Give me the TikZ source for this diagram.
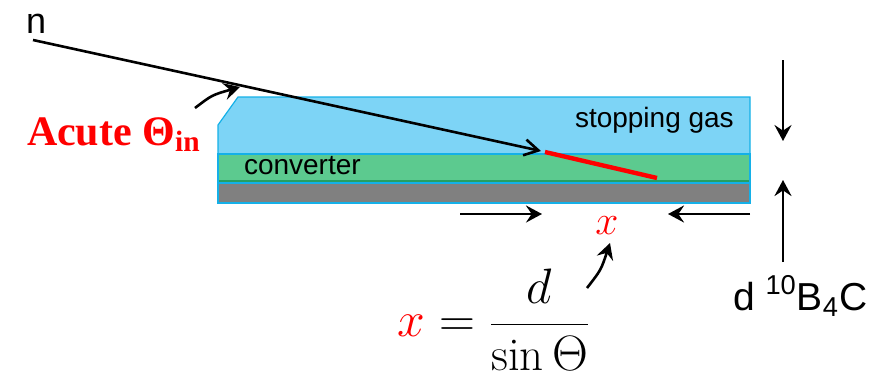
\documentclass[tikz,border=0pt]{standalone}
\usepackage{fontspec}
\usepackage{xcolor}
\usetikzlibrary{arrows.meta, positioning}
\newfontfamily\arialfont{Liberation Sans}
\newfontfamily\serifbold{Liberation Serif}
\definecolor{gasblue}{RGB}{125,212,246}
\definecolor{edgeblue}{RGB}{20,176,232}
\definecolor{convgreen}{RGB}{92,202,143}
\definecolor{darkgreen}{RGB}{38,158,98}
\definecolor{subgray}{RGB}{128,128,128}
\definecolor{hitred}{RGB}{255,0,0}

\begin{document}
\begin{tikzpicture}[x=0.5pt, y=-0.5pt,
  every node/.style={inner sep=0pt, outer sep=0pt},
  arr/.style={line width=1.3pt, -{Stealth[length=8pt, width=8.5pt, inset=2.8pt]}},
  layer/.style={draw=edgeblue, line width=0.6pt}]
  \useasboundingbox (0,0) rectangle (896,381);
  % layers
  \filldraw[layer, fill=gasblue] (238,97) -- (750,97) -- (750,154) -- (218,154) -- (218,125) -- cycle;
  \filldraw[layer, fill=convgreen] (218,154) rectangle (750,182);
  \draw[darkgreen, line width=1pt] (219,181) -- (749,181);
  \filldraw[layer, fill=subgray] (218,183) rectangle (750,203);
  \node[anchor=base west, font=\arialfont\fontsize{14}{16}\selectfont] (gas) at (575,127) {stopping gas};
  \node[anchor=base west, font=\arialfont\fontsize{14}{16}\selectfont] (conv) at (244,174) {converter};
  % neutron track
  \node[anchor=base west, font=\arialfont\fontsize{18}{20}\selectfont] (n) at (26,33) {n};
  \coordinate (nstart) at (33,40);
  \coordinate (hit) at (541,151);
  \draw[line width=1.3pt, -{Straight Barb[length=7pt, width=8pt]}] (nstart) -- (hit);
  \coordinate (rstart) at (545,152);
  \coordinate (rend) at (657,178);
  \draw[hitred, line width=2.2pt] (rstart) -- (rend);
  % angle label
  \node[anchor=base west, text=hitred, font=\serifbold\bfseries\fontsize{21}{23}\selectfont] (acute) at (27,145) {Acute Θ\textsubscript{in}};
  \coordinate (a1) at (195,108);
  \coordinate (a2) at (240,87);
  \draw[arr] (a1) .. controls (212,95) .. (a2);
  % path length x
  \coordinate (xl) at (460,214);
  \coordinate (xlt) at (542,214);
  \coordinate (xr) at (750,214);
  \coordinate (xrt) at (668,214);
  \draw[arr] (xl) -- (xlt);
  \draw[arr] (xr) -- (xrt);
  \node[text=hitred, font=\fontsize{22}{24}\selectfont] (xlab) at (607,226) {$x$};
  \coordinate (b1) at (587,288);
  \coordinate (b2) at (610,243);
  \draw[arr] (b1) .. controls (601,270) .. (b2);
  \node[font=\fontsize{23.5}{28}\selectfont] (eq) at (494,320) {$\displaystyle {\color{hitred}x} = \frac{d}{\sin\Theta}$};
  % thickness d
  \coordinate (dt) at (783,60);
  \coordinate (dtt) at (783,141);
  \coordinate (db) at (783,262);
  \coordinate (dbt) at (783,180);
  \draw[arr] (dt) -- (dtt);
  \draw[arr] (db) -- (dbt);
  \node[anchor=base west, font=\arialfont\fontsize{19.5}{22}\selectfont] (dlab) at (733,310) {d \textsuperscript{10}B\textsubscript{4}C};
\end{tikzpicture}
\end{document}
